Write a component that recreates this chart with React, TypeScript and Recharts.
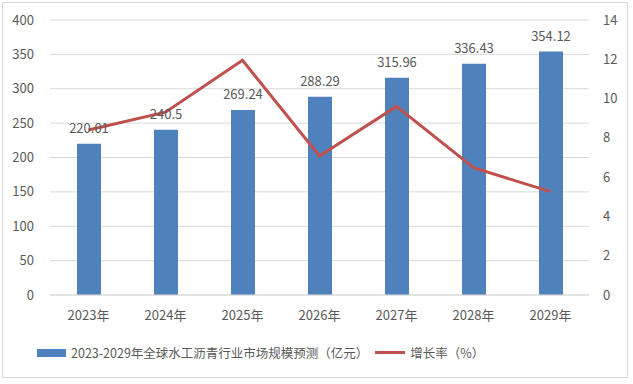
import React from "react"
import {
  ComposedChart,
  Bar,
  Line,
  XAxis,
  YAxis,
  CartesianGrid,
  LabelList,
  Legend,
} from "recharts"

const years = ["2023年", "2024年", "2025年", "2026年", "2027年", "2028年", "2029年"]
const marketSize = [220.01, 240.5, 269.24, 288.29, 315.96, 336.43, 354.12]
const growthRate = [8.4, 9.31, 11.95, 7.08, 9.6, 6.48, 5.26]
const leftTicks = [0, 50, 100, 150, 200, 250, 300, 350, 400]
const rightTicks = [0, 2, 4, 6, 8, 10, 12, 14]

const barName = "2023-2029年全球水工沥青行业市场规模预测（亿元）"
const lineName = "增长率（%）"

const data = years.map((year, i) => ({
  year,
  size: marketSize[i],
  rate: growthRate[i],
}))

const font = "'Noto Sans CJK SC', 'Noto Sans', sans-serif"
const textColor = "#595959"

function ChartLegend() {
  return (
    <div
      style={{
        display: "flex",
        alignItems: "center",
        justifyContent: "flex-start",
        paddingLeft: 37,
        paddingTop: 18,
        fontFamily: font,
        fontSize: 12.5,
        color: textColor,
      }}
    >
      <span style={{ display: "inline-block", width: 29, height: 8, background: "#4F81BD", marginRight: 5 }} />
      <span style={{ marginRight: 7 }}>{barName}</span>
      <span style={{ display: "inline-block", width: 30, height: 3, background: "#C0504D", marginRight: 5 }} />
      <span>{lineName}</span>
    </div>
  )
}

export default function App() {
  return (
    <div
      style={{
        position: "absolute",
        left: 0,
        top: 0,
        width: 633,
        height: 384,
        background: "#fff",
      }}
    >
      <div
        style={{
          position: "absolute",
          left: 2,
          top: 2,
          width: 626,
          height: 376,
          border: "1px solid #D9D9D9",
          boxSizing: "border-box",
        }}
      />
      <ComposedChart
        width={633}
        height={384}
        data={data}
        margin={{ top: 20, right: 0, bottom: 19, left: 0 }}
        style={{ fontFamily: font }}
      >
        <CartesianGrid vertical={false} stroke="#D9D9D9" yAxisId="left" />
        <XAxis
          dataKey="year"
          height={30}
          tickLine={false}
          axisLine={{ stroke: "#D9D9D9" }}
          tick={{ fontSize: 13, fill: textColor }}
          tickMargin={10}
        />
        <YAxis
          yAxisId="left"
          width={50}
          domain={[0, 400]}
          ticks={leftTicks}
          tickLine={false}
          axisLine={false}
          tick={{ fontSize: 13, fill: textColor }}
          tickMargin={10}
        />
        <YAxis
          yAxisId="right"
          orientation="right"
          width={44}
          domain={[0, 14]}
          ticks={rightTicks}
          tickLine={false}
          axisLine={false}
          tick={{ fontSize: 13, fill: textColor }}
          tickMargin={8}
        />
        <Legend verticalAlign="bottom" height={40} content={() => <ChartLegend />} />
        <Bar
          yAxisId="left"
          dataKey="size"
          name={barName}
          fill="#4F81BD"
          barSize={24}
          isAnimationActive={false}
        >
          <LabelList dataKey="size" position="top" offset={11} style={{ fontSize: 13, fill: textColor }} />
        </Bar>
        <Line
          yAxisId="right"
          dataKey="rate"
          name={lineName}
          type="linear"
          stroke="#C0504D"
          strokeWidth={3}
          dot={false}
          activeDot={false}
          isAnimationActive={false}
        />
      </ComposedChart>
    </div>
  )
}
